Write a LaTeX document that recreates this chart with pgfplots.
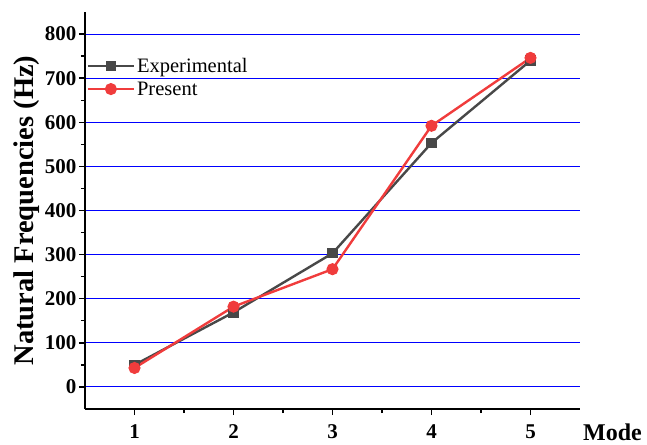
\documentclass[border=0pt]{standalone}
\usepackage{pgfplots}
\pgfplotsset{compat=1.18}
\usepackage{fontspec}
\setmainfont{Liberation Serif}
\definecolor{expgray}{RGB}{72,72,72}
\definecolor{presred}{RGB}{240,60,60}
\begin{document}
\begin{tikzpicture}
\path[use as bounding box] (-85pt,-35pt) rectangle (562pt,409pt);
\begin{axis}[
  at={(0,0)}, anchor=south west,
  scale only axis, width=495pt, height=397pt,
  xmin=0.5, xmax=5.5, ymin=-50, ymax=850,
  axis x line=bottom, axis y line=left,
  axis line style={-, line width=1.6pt, black},
  xtick={1,2,3,4,5}, ytick={0,100,...,800},
  minor x tick num=1, minor y tick num=1,
  tick align=outside,
  major tick length=6pt, minor tick length=4pt,
  tick style={line width=1.4pt, black},
  ymajorgrids, grid style={blue, line width=0.9pt},
  /pgf/number format/assume math mode=true,
  ticklabel style={font=\fontsize{21}{24}\selectfont\bfseries},
  xticklabel style={yshift=-6pt},
  yticklabel style={xshift=1pt},
  xlabel={Mode},
  xlabel style={at={(rel axis cs:1,0)}, anchor=base west, xshift=1pt, yshift=-31pt, inner xsep=2pt, font=\fontsize{24}{28}\selectfont\bfseries},
  ylabel={Natural Frequencies (Hz)},
  ylabel style={font=\fontsize{28.5}{32}\selectfont\bfseries, yshift=-1pt},
  legend style={at={(rel axis cs:0,0.895)}, anchor=north west, draw=none, fill=none,
    font=\fontsize{20.5}{24}\selectfont, row sep=4pt, inner xsep=1.5pt},
  legend cell align=left,
  legend image code/.code={\draw[#1] (0pt,0pt) -- (46pt,0pt); \draw[#1, only marks] plot coordinates {(23pt,0pt)};},
]
\addplot[expgray, line width=2.4pt, mark=square*, mark size=4pt, mark options={solid}]
  coordinates {(1,50) (2,169) (3,303) (4,553) (5,740)};
\addlegendentry{Experimental}
\addplot[presred, line width=2.4pt, mark=*, mark size=4.8pt, mark options={solid}]
  coordinates {(1,43) (2,182) (3,267) (4,592) (5,746)};
\addlegendentry{Present}
\end{axis}
\end{tikzpicture}
\end{document}
